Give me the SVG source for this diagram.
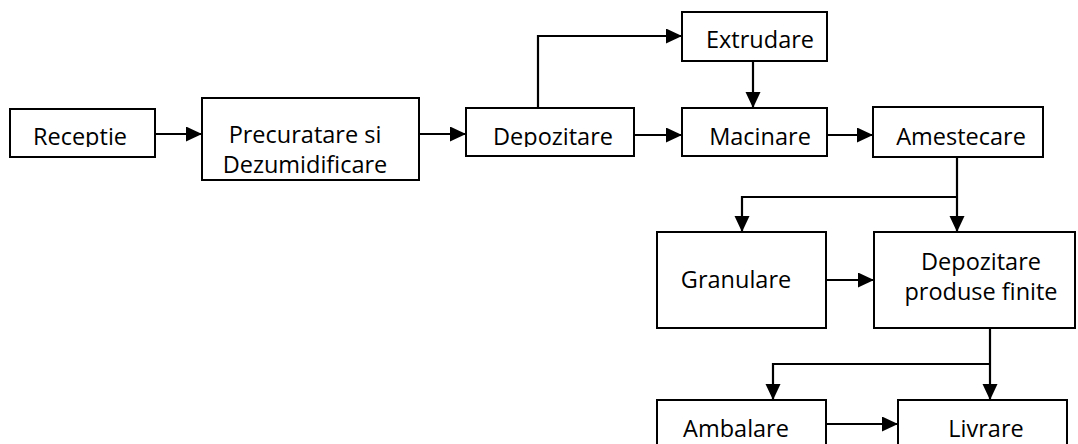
<svg xmlns="http://www.w3.org/2000/svg" width="1078" height="444" viewBox="0 0 1078 444">
<style>
.box{fill:#fff;stroke:#000;stroke-width:2}
.lbl{font-family:"Open Sans","Noto Sans",sans-serif;font-size:23.5px;fill:#000;text-anchor:middle}
.c{fill:none;stroke:#000;stroke-width:2.2}
</style>
<defs>
<marker id="ah" markerUnits="userSpaceOnUse" markerWidth="17" markerHeight="16" refX="16" refY="7.5" orient="auto">
<path d="M0,0 L16,7.5 L0,15 Z" fill="#000"/>
</marker>
<clipPath id="row1"><rect x="0" y="0" width="1078" height="147"/></clipPath>
</defs>
<rect width="1078" height="444" fill="#fff"/>
<g id="receptie"><rect class="box" x="10" y="109" width="145" height="48"/><text class="lbl" x="80" y="145" clip-path="url(#row1)">Receptie</text></g>
<g id="precuratare"><rect class="box" x="202" y="98" width="217" height="82"/><text class="lbl" x="305" y="143">Precuratare si</text><text class="lbl" x="305" y="173">Dezumidificare</text></g>
<g id="depozitare"><rect class="box" x="466" y="108" width="168" height="48"/><text class="lbl" x="553" y="145" clip-path="url(#row1)">Depozitare</text></g>
<g id="extrudare"><rect class="box" x="682" y="12" width="145" height="49"/><text class="lbl" x="760" y="48">Extrudare</text></g>
<g id="macinare"><rect class="box" x="682" y="108" width="145" height="48"/><text class="lbl" x="760" y="145" clip-path="url(#row1)">Macinare</text></g>
<g id="amestecare"><rect class="box" x="873" y="107" width="170" height="50"/><text class="lbl" x="961" y="145">Amestecare</text></g>
<g id="granulare"><rect class="box" x="657" y="232" width="169" height="96"/><text class="lbl" x="736" y="288">Granulare</text></g>
<g id="depozitare-pf"><rect class="box" x="874" y="232" width="201" height="96"/><text class="lbl" x="981" y="270">Depozitare</text><text class="lbl" x="981" y="300">produse finite</text></g>
<g id="ambalare"><rect class="box" x="657" y="400" width="169" height="60"/><text class="lbl" x="736" y="437">Ambalare</text></g>
<g id="livrare"><rect class="box" x="898" y="400" width="169" height="60"/><text class="lbl" x="986" y="437">Livrare</text></g>
<g id="connectors">
<path class="c" d="M155,134 H202" marker-end="url(#ah)"/>
<path class="c" d="M419,134 H466" marker-end="url(#ah)"/>
<path class="c" d="M634,135 H682" marker-end="url(#ah)"/>
<path class="c" d="M538,108 V36 H682" marker-end="url(#ah)"/>
<path class="c" d="M753,62 V108" marker-end="url(#ah)"/>
<path class="c" d="M827,135 H873" marker-end="url(#ah)"/>
<path class="c" d="M957,158 V232" marker-end="url(#ah)"/>
<path class="c" d="M957,197 H742 V232" marker-end="url(#ah)"/>
<path class="c" d="M826,280 H874" marker-end="url(#ah)"/>
<path class="c" d="M990,329 V400" marker-end="url(#ah)"/>
<path class="c" d="M990,364 H773 V400" marker-end="url(#ah)"/>
<path class="c" d="M826,424 H898" marker-end="url(#ah)"/>
</g>
</svg>
